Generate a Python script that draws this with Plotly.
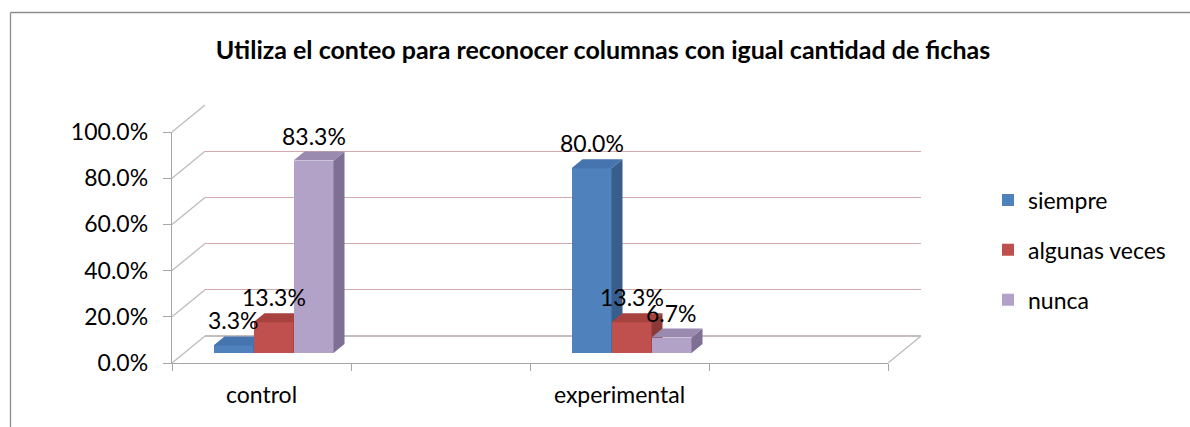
import plotly.graph_objects as go

# ---------------- data ----------------
categories = ["control", "", "experimental", ""]
series_names = ["siempre", "algunas veces", "nunca"]
siempre = [3.3, None, 80.0, None]
algunas_veces = [13.3, None, 13.3, None]
nunca = [83.3, None, 6.7, None]
y_tick_vals = [0, 20, 40, 60, 80, 100]
y_tick_text = ["0.0%", "20.0%", "40.0%", "60.0%", "80.0%", "100.0%"]
title_text = "Utiliza el conteo para reconocer columnas con igual cantidad de fichas"

series_values = [siempre, algunas_veces, nunca]
front_colors = ["#4F81BD", "#C0504D", "#B3A2C7"]
side_colors = ["#385E8C", "#8C3A38", "#7F6F95"]
top_colors = ["#4574AE", "#A8423F", "#9A8AAF"]

FONT = "Lato, 'Open Sans', 'Liberation Sans', sans-serif"

# ---------------- geometry (pixels) ----------------
FIG_W, FIG_H = 1190, 427
PLOT_L, PLOT_T, PLOT_W, PLOT_H = 172, 105, 749, 258


def px(xp):
    return (xp - PLOT_L) / PLOT_W


def py(yp):
    return (PLOT_T + PLOT_H - yp) / PLOT_H


front_x = [px(172), px(888)]
front_y = [py(363), py(132)]
back_x = [px(205), px(921)]
back_y = [py(336), py(105)]
bar_x = [px(184), px(900)]
bar_y = [py(353), py(122)]

n_cat = len(categories)
x_range = [-0.5, n_cat - 0.5]
px_per_cat = (888 - 172) / n_cat
px_per_pct = (363 - 132) / 100.0
bar_w = 40 / px_per_cat
depth_dx = 11 / px_per_cat
depth_dy = 9 / px_per_pct

fig = go.Figure()

# back wall (x / y) -- only gridlines
fig.add_trace(go.Scatter(x=[None], y=[None], xaxis="x", yaxis="y",
                         showlegend=False, hoverinfo="skip"))

# front axes (x2 / y2)
fig.add_trace(go.Scatter(x=[None], y=[None], xaxis="x2", yaxis="y2",
                         showlegend=False, hoverinfo="skip"))

# bars, each series on its own subplot so that later series overlap earlier
annotations = []
for i, (name, vals) in enumerate(zip(series_names, series_values)):
    ax_n = str(i + 3)
    off = -1.5 * bar_w + i * bar_w
    xs = list(range(n_cat))
    fig.add_trace(go.Bar(
        x=xs, y=vals, name=name, width=bar_w, offset=off,
        marker=dict(color=front_colors[i], line=dict(width=0)),
        xaxis="x" + ax_n, yaxis="y" + ax_n,
        legendgroup=name, hoverinfo="skip",
    ))
    side_x, side_y, top_x, top_y = [], [], [], []
    for j, v in enumerate(vals):
        if v is None:
            continue
        xl = j + off
        xr = xl + bar_w
        side_x += [xr, xr + depth_dx, xr + depth_dx, xr, xr, None]
        side_y += [0, depth_dy, v + depth_dy, v, 0, None]
        top_x += [xl, xl + depth_dx, xr + depth_dx, xr, xl, None]
        top_y += [v, v + depth_dy, v + depth_dy, v, v, None]
        annotations.append(dict(
            x=j + off + bar_w / 2, y=v, xref="x" + ax_n, yref="y" + ax_n,
            text=f"{v:.1f}%", showarrow=False, yshift=25,
            xanchor="center", yanchor="middle",
            font=dict(family=FONT, size=23, color="#000000"),
        ))
    fig.add_trace(go.Scatter(x=side_x, y=side_y, fill="toself", mode="lines",
                             line=dict(width=0), fillcolor=side_colors[i],
                             xaxis="x" + ax_n, yaxis="y" + ax_n,
                             showlegend=False, hoverinfo="skip"))
    fig.add_trace(go.Scatter(x=top_x, y=top_y, fill="toself", mode="lines",
                             line=dict(width=0), fillcolor=top_colors[i],
                             xaxis="x" + ax_n, yaxis="y" + ax_n,
                             showlegend=False, hoverinfo="skip"))

hidden_x = dict(range=x_range, visible=False, fixedrange=True)
hidden_y = dict(range=[0, 100], visible=False, fixedrange=True)

layout_axes = dict(
    xaxis=dict(domain=back_x, range=x_range, showgrid=False, zeroline=False,
               showticklabels=False, anchor="y", fixedrange=True),
    yaxis=dict(domain=back_y, range=[0, 100], tickvals=y_tick_vals,
               showgrid=True, gridcolor="#D4AAAE", gridwidth=1.4,
               zeroline=True, zerolinecolor="#C8BDBE", zerolinewidth=1.4,
               showticklabels=False, anchor="x", fixedrange=True),
    xaxis2=dict(domain=front_x, range=x_range, anchor="y2",
                tickvals=list(range(n_cat)), ticktext=categories, ticks="",
                showgrid=False, zeroline=False,
                showline=True, linecolor="#A6A6A6", linewidth=1.3,
                minor=dict(tickvals=[k - 0.5 for k in range(n_cat + 1)],
                           ticks="outside", ticklen=7, tickcolor="#A6A6A6",
                           showgrid=False),
                tickfont=dict(family=FONT, size=23, color="#000000"),
                ticklabelstandoff=11, fixedrange=True),
    yaxis2=dict(domain=front_y, range=[0, 100], anchor="x2",
                tickvals=y_tick_vals, ticktext=y_tick_text,
                ticks="outside", ticklen=8, tickcolor="#A6A6A6",
                showgrid=False, zeroline=False,
                showline=True, linecolor="#A6A6A6", linewidth=1.3,
                tickfont=dict(family=FONT, size=23, color="#000000"),
                ticklabelstandoff=10, fixedrange=True),
)
for i in range(len(series_names)):
    n = str(i + 3)
    layout_axes["xaxis" + n] = dict(hidden_x, domain=bar_x, anchor="y" + n)
    layout_axes["yaxis" + n] = dict(hidden_y, domain=bar_y, anchor="x" + n)

# perspective lines: left wall diagonals and right floor edge
shapes = []
for v in y_tick_vals:
    yf = front_y[0] + v / 100 * (front_y[1] - front_y[0])
    yb = back_y[0] + v / 100 * (back_y[1] - back_y[0])
    shapes.append(dict(type="line", xref="paper", yref="paper",
                       x0=front_x[0], y0=yf, x1=back_x[0], y1=yb,
                       line=dict(color="#BDBDBD", width=1.3)))
shapes.append(dict(type="line", xref="paper", yref="paper",
                   x0=front_x[1], y0=front_y[0], x1=back_x[1], y1=back_y[0],
                   line=dict(color="#BDBDBD", width=1.3)))
# chart frame (left and top edges)
shapes.append(dict(type="line", xref="paper", yref="paper",
                   x0=px(10.5), y0=py(12.5), x1=px(10.5), y1=py(440),
                   line=dict(color="#8C8C8C", width=1.3)))
shapes.append(dict(type="line", xref="paper", yref="paper",
                   x0=px(10.5), y0=py(12.5), x1=px(1200), y1=py(12.5),
                   line=dict(color="#8C8C8C", width=1.3)))

fig.update_layout(
    width=FIG_W, height=FIG_H,
    margin=dict(l=PLOT_L, t=PLOT_T, r=FIG_W - PLOT_L - PLOT_W,
                b=FIG_H - PLOT_T - PLOT_H, pad=0),
    paper_bgcolor="#FFFFFF", plot_bgcolor="rgba(0,0,0,0)",
    title=dict(text="<b>" + title_text + "</b>", x=603 / FIG_W, xanchor="center",
               y=1 - 50 / FIG_H, yanchor="middle", yref="container",
               font=dict(family=FONT, size=25, color="#000000")),
    legend=dict(x=px(988), xanchor="left", y=py(250), yanchor="middle",
                traceorder="grouped", tracegroupgap=17, itemwidth=30,
                font=dict(family=FONT, size=23, color="#000000"),
                bgcolor="rgba(0,0,0,0)"),
    showlegend=True,
    bargap=0,
    annotations=annotations,
    shapes=shapes,
    **layout_axes,
)

fig.write_html("out.html",
               config={"displayModeBar": False, "staticPlot": True},
               post_script="document.body.style.margin='0px';"
                           "document.body.style.overflow='hidden';")
